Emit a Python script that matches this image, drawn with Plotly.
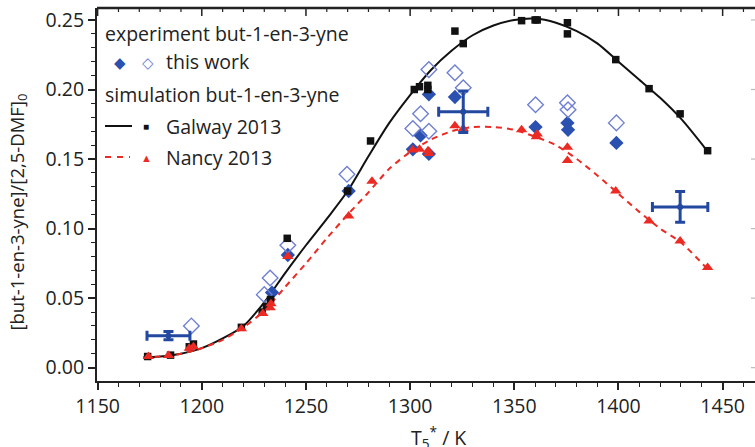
import plotly.graph_objects as go

# ---- data ----
# Galway 2013 simulation: points (squares)
galway_x = [1174, 1185, 1194, 1196, 1219, 1229, 1231, 1233, 1241, 1270, 1281, 1302, 1304.5, 1308.5, 1308.5,
            1321.5, 1325.5, 1353.5, 1360, 1361, 1375.5, 1375.5, 1398.7, 1414.7, 1429.6, 1442.8]
galway_y = [0.008, 0.009, 0.015, 0.017, 0.029, 0.040, 0.044, 0.049, 0.093, 0.127, 0.163, 0.200, 0.202, 0.203, 0.200,
            0.242, 0.233, 0.2495, 0.250, 0.250, 0.248, 0.240, 0.2215, 0.2006, 0.1825, 0.156]
# Galway 2013 simulation curve
galway_line_x = [1172, 1180, 1190, 1200, 1210, 1220, 1230, 1240, 1250, 1260, 1270, 1280, 1290, 1300, 1310,
                 1320, 1330, 1340, 1350, 1360, 1370, 1380, 1390, 1400, 1410, 1420, 1430, 1442]
galway_line_y = [0.0075, 0.008, 0.010, 0.014, 0.021, 0.030, 0.047, 0.068, 0.088, 0.107, 0.127, 0.152, 0.176, 0.196, 0.214,
                 0.228, 0.239, 0.246, 0.250, 0.251, 0.248, 0.242, 0.233, 0.220, 0.207, 0.194, 0.179, 0.157]

# Nancy 2013 simulation: points (triangles)
nancy_x = [1174.4, 1184, 1194, 1196, 1219, 1229.3, 1232.8, 1233.2, 1241.3, 1270.5, 1281.7, 1301.2, 1304.5, 1308.6, 1309,
           1321.5, 1325.5, 1353.5, 1360.6, 1361, 1375.5, 1375.5, 1398.7, 1414.7, 1429.6, 1442.8]
nancy_y = [0.008, 0.0087, 0.014, 0.015, 0.028, 0.039, 0.043, 0.046, 0.080, 0.109, 0.134, 0.1565, 0.157, 0.156, 0.154,
           0.174, 0.1717, 0.171, 0.166, 0.168, 0.1585, 0.149, 0.127, 0.1055, 0.091, 0.072]
# Nancy 2013 simulation curve
nancy_line_x = [1172, 1180, 1190, 1200, 1210, 1220, 1230, 1240, 1250, 1260, 1270, 1280, 1290, 1300, 1310,
                1320, 1330, 1340, 1350, 1360, 1370, 1380, 1390, 1400, 1410, 1420, 1430, 1442]
nancy_line_y = [0.0075, 0.008, 0.010, 0.014, 0.020, 0.029, 0.041, 0.058, 0.075, 0.093, 0.110, 0.126, 0.143, 0.155, 0.164,
                0.170, 0.173, 0.173, 0.171, 0.166, 0.160, 0.150, 0.138, 0.125, 0.112, 0.100, 0.090, 0.072]

# this work: filled diamonds
filled_x = [1233.7, 1241.3, 1270.5, 1301.3, 1305, 1309, 1309, 1321.5, 1360.2, 1375.5, 1375.8, 1399]
filled_y = [0.054, 0.081, 0.127, 0.157, 0.167, 0.1965, 0.1537, 0.1946, 0.173, 0.176, 0.171, 0.1616]
# this work: open diamonds
open_x = [1195, 1230, 1232.8, 1241.3, 1269.7, 1301.3, 1305, 1309, 1309, 1321.5, 1325.5, 1360.2, 1375.5, 1375.8, 1399]
open_y = [0.030, 0.0525, 0.0645, 0.088, 0.139, 0.172, 0.1826, 0.170, 0.2143, 0.212, 0.2013, 0.189, 0.1905, 0.1854, 0.176]

# averaged points with error bars
avg_x = [1184, 1325.5, 1429.6]
avg_y = [0.023, 0.184, 0.1156]
avg_xerr = [10.3, 11.8, 13.3]
avg_yerr = [0.003, 0.015, 0.011]

x_ticks = [1150, 1200, 1250, 1300, 1350, 1400, 1450]
x_minor = list(range(1150, 1470, 10))
y_ticks = [0.00, 0.05, 0.10, 0.15, 0.20, 0.25]

BLACK = "#111111"
RED = "#ec2a24"
BLUE = "#2a50b0"
LBLUE = "#6f80d2"
DBLUE = "#2348a0"
TXT = "#222222"
FONT = "Open Sans"

W, H = 755, 447
ML, MR, MT, MB = 97, 0, 8, 66
PW, PH = W - ML - MR, H - MT - MB


def px(xp):
    return (xp - ML) / PW


def py(yp):
    return 1 - (yp - MT) / PH


fig = go.Figure()

fig.add_trace(go.Scatter(x=galway_line_x, y=galway_line_y, mode="lines",
                         line=dict(color=BLACK, width=2, shape="spline", smoothing=0.8),
                         showlegend=False, hoverinfo="skip"))
fig.add_trace(go.Scatter(x=nancy_line_x, y=nancy_line_y, mode="lines",
                         line=dict(color=RED, width=2, dash="6px,5px", shape="spline", smoothing=0.8),
                         showlegend=False, hoverinfo="skip"))
fig.add_trace(go.Scatter(x=filled_x, y=filled_y, mode="markers",
                         marker=dict(symbol="diamond", size=11, color=BLUE), showlegend=False))
fig.add_trace(go.Scatter(x=open_x, y=open_y, mode="markers",
                         marker=dict(symbol="diamond-open", size=12, color=LBLUE, line=dict(width=1.4)),
                         showlegend=False))
fig.add_trace(go.Scatter(x=galway_x, y=galway_y, mode="markers",
                         marker=dict(symbol="square", size=7.5, color=BLACK), showlegend=False))
fig.add_trace(go.Scatter(x=nancy_x, y=nancy_y, mode="markers",
                         marker=dict(symbol="triangle-up", size=10, color=RED), showlegend=False))
fig.add_trace(go.Scatter(x=avg_x, y=avg_y, mode="markers",
                         marker=dict(symbol="circle", size=6, color=DBLUE),
                         error_x=dict(type="data", array=avg_xerr, color=DBLUE, thickness=3, width=5),
                         error_y=dict(type="data", array=avg_yerr, color=DBLUE, thickness=3, width=5),
                         showlegend=False))

xr = [1149.7, 1149.7 + PW / (625 / 300)]
yr = [-0.0096, 0.2586]

fig.update_layout(
    width=W, height=H,
    margin=dict(l=ML, r=MR, t=MT, b=MB, autoexpand=False),
    plot_bgcolor="white", paper_bgcolor="white",
    font=dict(family=FONT, size=19, color=TXT),
    xaxis=dict(range=xr, tickvals=x_ticks, ticks="outside", ticklen=7, tickwidth=1.5, tickcolor=TXT,
               showline=True, linecolor=TXT, linewidth=2, showgrid=False, zeroline=False,
               automargin=False,
               minor=dict(dtick=10, ticks="outside", ticklen=4, tickcolor=TXT, tickwidth=1.2),
               tickfont=dict(size=19.5)),
    yaxis=dict(range=yr, tickvals=y_ticks, tickformat=".2f", ticks="outside", ticklen=7, tickwidth=1.5,
               tickcolor=TXT, showline=True, linecolor=TXT, linewidth=2, showgrid=False, zeroline=False,
               automargin=False,
               minor=dict(dtick=0.01, tick0=0, ticks="outside", ticklen=4, tickcolor=TXT, tickwidth=1.2),
               tickfont=dict(size=19.5)),
)

# top frame line with inward ticks (drawn from the tick arrays through the x scale)
fig.add_shape(type="line", xref="paper", yref="paper", x0=0, x1=1, y0=1, y1=1,
              line=dict(color=TXT, width=2.5))
for t in x_minor:
    L = 8 if t in x_ticks else 4
    fig.add_shape(type="line", xref="x", yref="paper", x0=t, x1=t, y0=1, y1=1 - L / PH,
                  line=dict(color=TXT, width=1.5 if L == 8 else 1.2))
# faint right-edge ticks
for t in y_ticks:
    fig.add_shape(type="line", xref="paper", yref="y", x0=1, x1=1 - 4 / PW, y0=t, y1=t,
                  line=dict(color="#bbbbbb", width=1.2))

# axis titles
fig.add_annotation(x=0.5, y=0, xref="paper", yref="paper", yshift=-56, xshift=12,
                   text="T<sub>5</sub><sup>*</sup> / K", showarrow=False,
                   font=dict(family=FONT, size=19.5, color=TXT), xanchor="center", yanchor="middle")
fig.add_annotation(x=0, y=0.5, xref="paper", yref="paper", xshift=-80, yshift=-18,
                   text="[but-1-en-3-yne]/[2,5-DMF]<sub>0</sub>", textangle=-90, showarrow=False,
                   font=dict(family=FONT, size=18.5, color=TXT), xanchor="center", yanchor="middle")


def ann(xp, yp, text, size=19.5, color=TXT, anchor="left"):
    fig.add_annotation(x=px(xp), y=py(yp), xref="paper", yref="paper", xanchor=anchor, yanchor="middle",
                       text=text, showarrow=False, font=dict(family=FONT, size=size, color=color))


ann(103, 33, "experiment but-1-en-3-yne")
ann(120, 62, "◆", size=15, color=BLUE, anchor="center")
ann(148, 62, "◇", size=15, color=LBLUE, anchor="center")
ann(164, 62, "this work")
ann(103, 95, "simulation but-1-en-3-yne")
ann(146, 126, "■", size=10, color=BLACK, anchor="center")
ann(164, 126, "Galway 2013")
ann(146, 157, "▲", size=11, color=RED, anchor="center")
ann(164, 157, "Nancy 2013")

fig.add_shape(type="line", xref="paper", yref="paper", x0=px(105), x1=px(132), y0=py(126), y1=py(126),
              line=dict(color=BLACK, width=2))
fig.add_shape(type="line", xref="paper", yref="paper", x0=px(105), x1=px(130), y0=py(157), y1=py(157),
              line=dict(color=RED, width=2, dash="6px,6px"))

fig.write_html("out.html", config={"displayModeBar": False},
               post_script="document.body.style.margin='0';document.body.style.overflow='hidden';")
